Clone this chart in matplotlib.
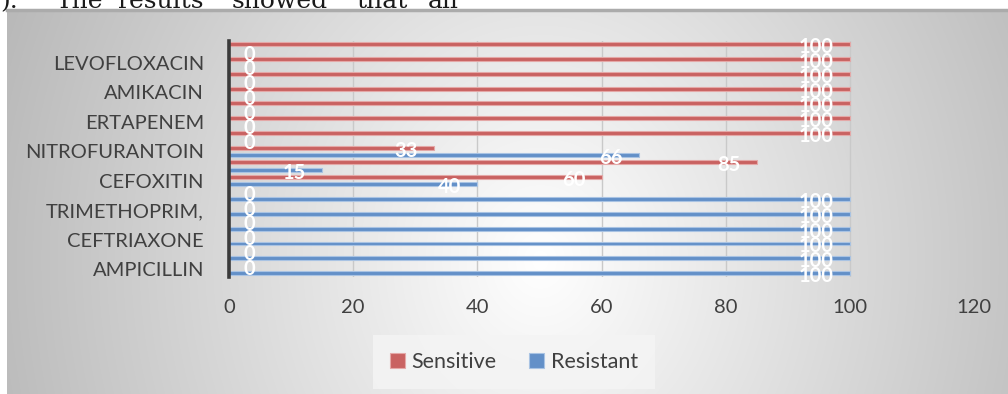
import numpy as np
import matplotlib
matplotlib.use("Agg")
import matplotlib.pyplot as plt
from matplotlib.patches import Patch
import matplotlib.transforms as mtransforms

# ---------------- data ----------------
categories = ["AMPICILLIN", "", "CEFTRIAXONE", "", "TRIMETHOPRIM,", "",
              "CEFOXITIN", "", "NITROFURANTOIN", "", "ERTAPENEM", "",
              "AMIKACIN", "", "LEVOFLOXACIN", ""]
sensitive = [0, 0, 0, 0, 0, 0, 60, 85, 33, 100, 100, 100, 100, 100, 100, 100]
resistant = [100, 100, 100, 100, 100, 100, 40, 15, 66, 0, 0, 0, 0, 0, 0, 0]
series_names = ["Sensitive", "Resistant"]
x_ticks = [0, 20, 40, 60, 80, 100, 120]
doc_words = [").", "The", "results", "showed", "that", "all"]
doc_word_x = [0, 56, 117, 232, 356, 428]

# ---------------- figure ----------------
W, H, DPI = 1008, 394, 100
fig = plt.figure(figsize=(W / DPI, H / DPI), dpi=DPI)
fig.patch.set_facecolor("white")

FONT = ["Lato", "DejaVu Sans"]
TXT = "#404040"
RED = "#C96261"
RED_E = "#E4A8A7"
BLUE = "#6390C8"
BLUE_E = "#A9C3E3"

# background gradient panel
x0, y0 = 7, 10
bg = fig.add_axes([x0 / W, 0, 1 - x0 / W, 1 - y0 / H], zorder=0)
bw, bh = W - x0, H - y0
xx, yy = np.meshgrid(np.arange(bw) + x0, np.arange(bh) + y0)
r = np.sqrt(((xx - 540) / 540.0) ** 2 + ((yy - 260) / 620.0) ** 2)
v = np.clip(255 - 66 * r, 185, 255) / 255.0
img = np.dstack([v, v, v])
bg.imshow(img, aspect="auto", extent=[0, 1, 0, 1], interpolation="bilinear")
bg.plot([0, 1], [1, 1], color="#ABABAB", lw=2.5, transform=bg.transAxes, clip_on=False)
bg.set_xlim(0, 1)
bg.set_ylim(0, 1)
bg.axis("off")

# document text cut at top
for wd, wx in zip(doc_words, doc_word_x):
    fig.text(wx / W, 1 - 8 / H, wd, fontsize=18, family=["DejaVu Serif"],
             color="#1A1A1A", va="baseline", ha="left")

# main axes
left, right, top, bottom = 229, 974, 40.6, 276.7
ax = fig.add_axes([left / W, 1 - bottom / H, (right - left) / W, (bottom - top) / H], zorder=2)
ax.set_facecolor("none")

y = np.arange(len(categories))
off, hgt = 0.25, 0.27
ax.barh(y + off, sensitive, height=hgt, color=RED, edgecolor=RED_E, linewidth=0.8, zorder=3,
        label=series_names[0])
ax.barh(y - off, resistant, height=hgt, color=BLUE, edgecolor=BLUE_E, linewidth=0.8, zorder=3,
        label=series_names[1])

ax.set_xlim(0, 120)
ax.set_ylim(-0.5, len(categories) - 0.5)
ax.set_xticks(x_ticks)
ax.set_xticklabels([str(t) for t in x_ticks], fontsize=14.5, color=TXT, family=FONT)
ax.set_yticks(y)
ax.set_yticklabels(categories, fontsize=14.5, color=TXT, family=FONT)
ax.tick_params(axis="y", length=0, pad=18)
ax.tick_params(axis="x", length=0, pad=16)

ax.grid(axis="x", color="#C9C9C9", lw=1.0, zorder=1)
ax.set_axisbelow(True)
for s in ["top", "right", "bottom"]:
    ax.spines[s].set_visible(False)
ax.spines["left"].set_color("#3A3A3A")
ax.spines["left"].set_linewidth(2.6)
ax.spines["left"].set_zorder(4)

# data labels
for vals, dy in ((sensitive, off), (resistant, -off)):
    for i, val in enumerate(vals):
        if val == 0:
            tr = mtransforms.offset_copy(ax.transData, fig=fig, x=14, y=-3, units="dots")
            ha = "left"
        else:
            tr = mtransforms.offset_copy(ax.transData, fig=fig, x=-16, y=-3, units="dots")
            ha = "right"
        ax.text(val, i + dy, str(val), transform=tr, ha=ha, va="center", fontsize=14.5,
                fontweight="bold", color="white", family=FONT, zorder=5)

# legend
handles = [Patch(facecolor=RED, edgecolor=RED_E, lw=0.8),
           Patch(facecolor=BLUE, edgecolor=BLUE_E, lw=0.8)]
leg = fig.legend(handles, series_names, loc="center", bbox_to_anchor=(514 / W, 1 - 362 / H),
                 ncol=2, frameon=True, handlelength=0.7, handleheight=0.7,
                 handletextpad=0.3, columnspacing=1.5, borderpad=0.8, fancybox=False,
                 prop={"family": FONT, "size": 15.5})
leg.get_frame().set_facecolor("#F4F4F4")
leg.get_frame().set_edgecolor("none")
leg.get_frame().set_alpha(0.85)
for t in leg.get_texts():
    t.set_color(TXT)
leg.set_zorder(3)

fig.savefig("out.png", dpi=DPI)
